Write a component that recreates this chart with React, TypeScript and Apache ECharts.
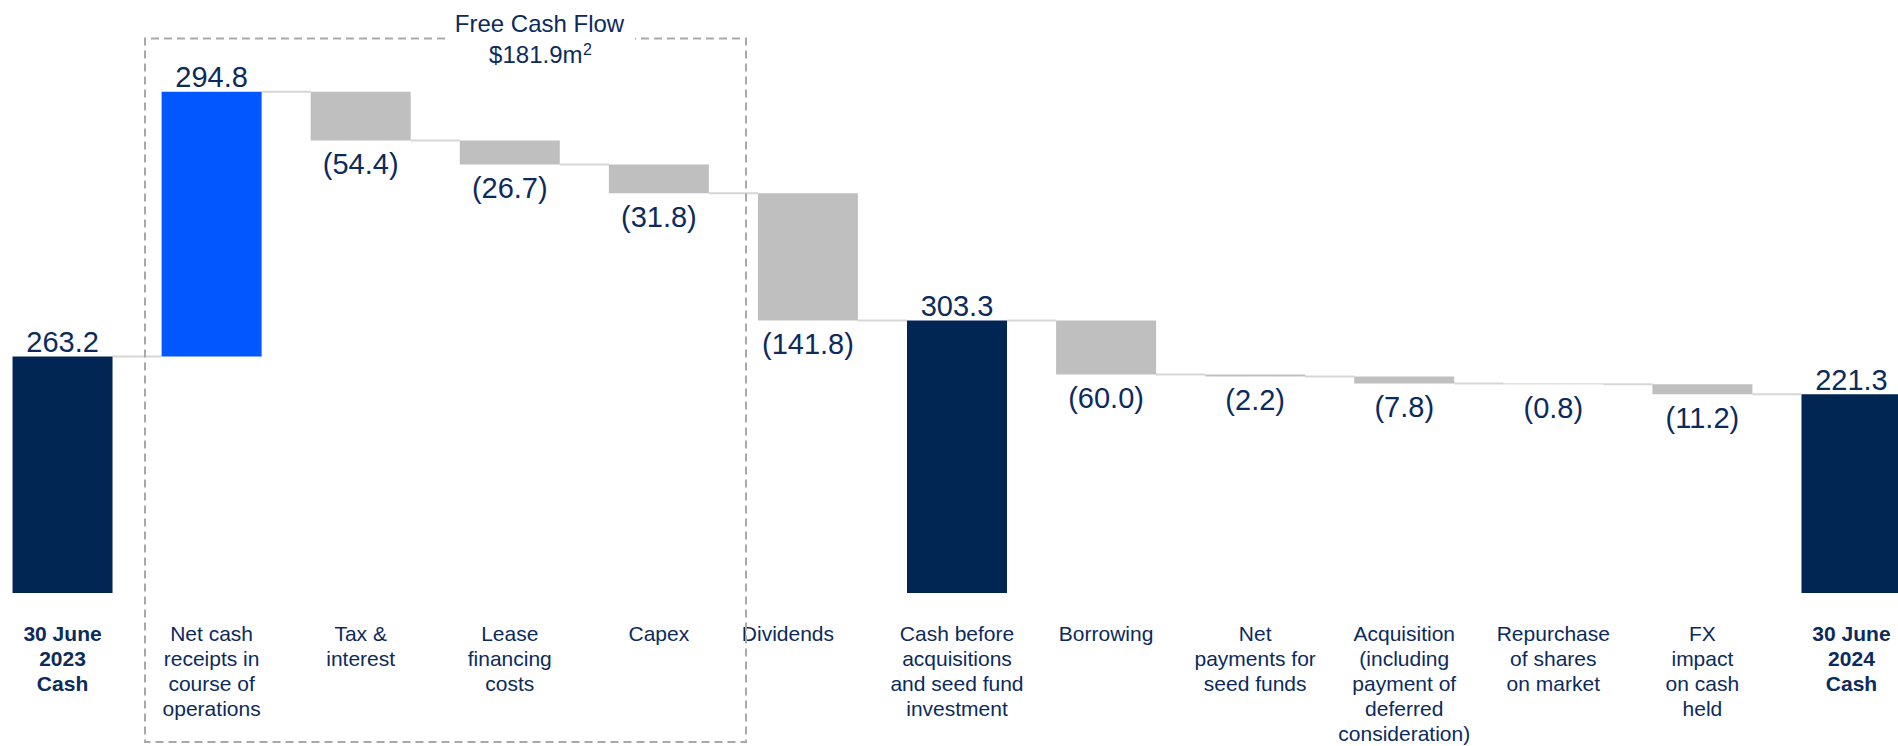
import React, { useEffect, useRef } from "react";
import * as echarts from "echarts";

const categories = [
  "30 June\n2023\nCash",
  "Net cash\nreceipts in\ncourse of\noperations",
  "Tax &\ninterest",
  "Lease\nfinancing\ncosts",
  "Capex",
  "Dividends",
  "Cash before\nacquisitions\nand seed fund\ninvestment",
  "Borrowing",
  "Net\npayments for\nseed funds",
  "Acquisition\n(including\npayment of\ndeferred\nconsideration)",
  "Repurchase\nof shares\non market",
  "FX\nimpact\non cash\nheld",
  "30 June\n2024\nCash",
];

const amounts = [263.2, 294.8, -54.4, -26.7, -31.8, -141.8, 303.3, -60.0, -2.2, -7.8, -0.8, -11.2, 221.3];

const kinds = [
  "total", "delta", "delta", "delta", "delta", "delta",
  "total", "delta", "delta", "delta", "delta", "delta", "total",
];

const boldCategories = [0, 12];

const boxTitle = "Free Cash Flow";
const boxValue = "$181.9m";
const boxNote = "2";

const NAVY = "#022654";
const TEXT = "#0C2B5C";
const BLUE = "#0257FF";
const GREY = "#BFBFBF";
const FONT = "'Liberation Sans', Arial, Helvetica, sans-serif";
const OFF = 12; // chart div starts 12px left of the page edge

export default function App() {
  const ref = useRef<HTMLDivElement>(null);

  useEffect(() => {
    if (!ref.current) return;
    const chart = echarts.init(ref.current, undefined, { renderer: "svg" });

    const starts: number[] = [];
    const ends: number[] = [];
    let running = 0;
    amounts.forEach((a, i) => {
      if (kinds[i] === "total") {
        starts.push(0);
        ends.push(a);
        running = a;
      } else {
        starts.push(running);
        running = +(running + a).toFixed(1);
        ends.push(running);
      }
    });

    const baseData = amounts.map((_, i) => Math.min(starts[i], ends[i]));
    const visData = amounts.map((a, i) => {
      const isTotal = kinds[i] === "total";
      const color = isTotal ? NAVY : a > 0 ? BLUE : GREY;
      return {
        value: Math.abs(ends[i] - starts[i]),
        itemStyle: { color },
        label: {
          position: a >= 0 ? "top" : "bottom",
          distance: a >= 0 ? 0 : 9,
        },
      };
    });
    const fmt = (v: number) => (v < 0 ? `(${Math.abs(v).toFixed(1)})` : v.toFixed(1));

    const connectorData = ends.slice(0, -1).map((lvl, i) => [i, lvl]);

    const xData = categories.map((c, i) => {
      const ts: any = {};
      if (boldCategories.includes(i)) ts.fontWeight = "bold";
      if (c === "Dividends") ts.padding = [0, 40, 0, 0];
      return { value: c, textStyle: ts };
    });

    const option: any = {
      animation: false,
      grid: { left: 0, right: 0, top: 54, bottom: 152, containLabel: false },
      xAxis: {
        type: "category",
        data: xData,
        axisLine: { show: false },
        axisTick: { show: false },
        axisLabel: {
          interval: 0,
          margin: 28,
          fontSize: 21,
          lineHeight: 25,
          color: TEXT,
          fontFamily: FONT,
          align: "center",
        },
      },
      yAxis: { type: "value", min: 0, max: 600, show: false, splitLine: { show: false } },
      series: [
        {
          type: "custom",
          z: 1,
          silent: true,
          renderItem: (params: any, api: any) => {
            const i = api.value(0);
            const lvl = api.value(1);
            const p1 = api.coord([i, lvl]);
            const p2 = api.coord([i + 1, lvl]);
            const half = 50;
            return {
              type: "line",
              shape: { x1: p1[0] + half, y1: p1[1], x2: p2[0] - half, y2: p2[1] },
              style: { stroke: "#D6D6D6", lineWidth: 2 },
            };
          },
          data: connectorData,
        },
        {
          type: "bar",
          stack: "wf",
          z: 2,
          barWidth: 100,
          silent: true,
          itemStyle: { color: "transparent" },
          data: baseData,
        },
        {
          type: "bar",
          stack: "wf",
          z: 3,
          barWidth: 100,
          data: visData,
          label: {
            show: true,
            fontSize: 29,
            color: TEXT,
            fontFamily: FONT,
            formatter: (p: any) => fmt(amounts[p.dataIndex]),
          },
        },
      ],
      graphic: [
        {
          type: "polyline",
          z: 10,
          shape: {
            points: [
              [445 + OFF, 38.5],
              [145 + OFF, 38.5],
              [145 + OFF, 742],
              [746 + OFF, 742],
              [746 + OFF, 38.5],
              [635 + OFF, 38.5],
            ],
          },
          style: { stroke: "#A9A9A9", lineWidth: 2, lineDash: [8, 5], fill: null },
        },
        {
          type: "text",
          z: 10,
          x: 539.5 + OFF,
          y: 23.4,
          style: {
            text: boxTitle,
            fontSize: 24,
            fill: TEXT,
            fontFamily: FONT,
            align: "center",
            verticalAlign: "middle",
          },
        },
        {
          type: "text",
          z: 10,
          x: 582.5 + OFF,
          y: 54.7,
          style: {
            text: boxValue,
            fontSize: 24,
            fill: TEXT,
            fontFamily: FONT,
            align: "right",
            verticalAlign: "middle",
          },
        },
        {
          type: "text",
          z: 10,
          x: 583 + OFF,
          y: 49.3,
          style: {
            text: boxNote,
            fontSize: 16,
            fill: TEXT,
            fontFamily: FONT,
            align: "left",
            verticalAlign: "middle",
          },
        },
      ],
    };

    chart.setOption(option);
    return () => chart.dispose();
  }, []);

  return (
    <div
      ref={ref}
      style={{ position: "fixed", left: -OFF, top: 0, width: 1938, height: 746, background: "#fff" }}
    />
  );
}
